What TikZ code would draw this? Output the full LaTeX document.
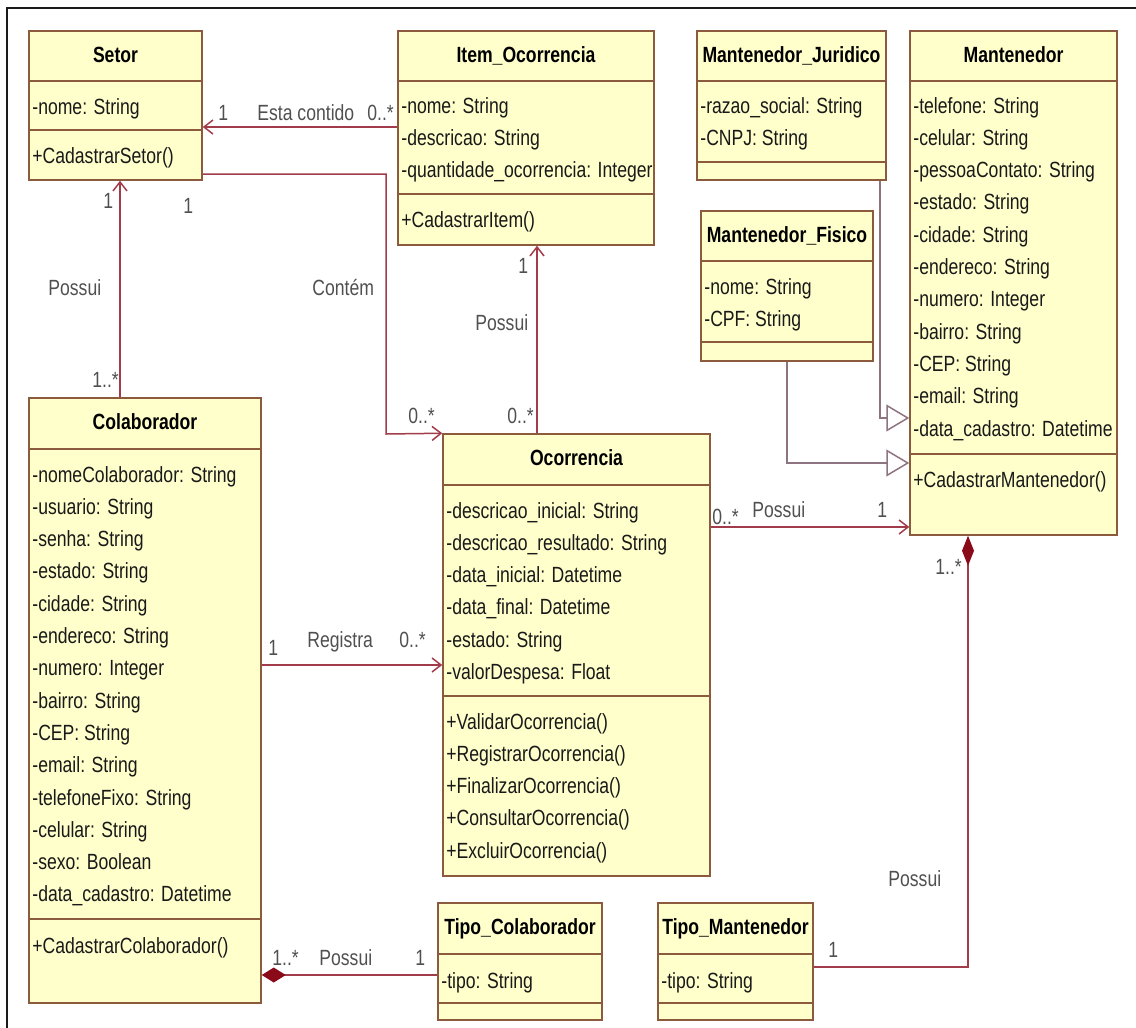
\documentclass[tikz,border=0pt]{standalone}
\usepackage{fontspec}
\setmainfont{Liberation Sans}[FakeStretch=0.8]
\usetikzlibrary{arrows.meta, fit}
\definecolor{classfill}{HTML}{FFFFCC}
\definecolor{classedge}{HTML}{8C5A3C}
\definecolor{linkred}{HTML}{A23C4A}
\definecolor{genline}{HTML}{8E7480}
\definecolor{compred}{HTML}{8B0A1A}
\definecolor{labelgrey}{HTML}{505050}
\definecolor{frameink}{HTML}{1A1A1A}

% one class: name, left, top, right, bottom, first divider, second divider, title
\newcommand{\umlclass}[8]{%
  \node[classbox, fit={(#2,#3) (#4,#5)}] (#1) {};
  \draw[classedge, line width=0.75pt] (#1.west |- 0,#6) -- (#1.east |- 0,#6);
  \draw[classedge, line width=0.75pt] (#1.west |- 0,#7) -- (#1.east |- 0,#7);
  \node[classtitle] (#1-title) at ({(#2+#4)/2},{#3+31}) {#8};
}
% the rows of one compartment: prefix, left, first baseline, rows
\newcommand{\umlrows}[4]{%
  \foreach \entry [count=\row from 0] in {#4}
    \node[member] (#1-\row) at ({#2+3},{#3+32.3*\row}) {\entry};
}

\begin{document}
\begin{tikzpicture}[x=0.5pt, y=-0.5pt, font=\fontsize{11pt}{13pt}\selectfont]
  \useasboundingbox (0,0) rectangle (1136,1028);
  \tikzset{
    classbox/.style={draw=classedge, fill=classfill, line width=0.75pt, inner sep=0pt},
    classtitle/.style={anchor=base, inner sep=0pt, font=\fontsize{11pt}{13pt}\selectfont\bfseries},
    member/.style={anchor=base west, inner sep=0pt, text=black!90},
    conlab/.style={anchor=base west, inner sep=0pt, text=labelgrey},
    link/.style={draw=linkred, line width=0.75pt},
    navto/.style={-{Straight Barb[length=4.5pt, width=7pt]}},
    gento/.style={draw=genline, line width=0.75pt,
                  -{Triangle[open, length=11.5pt, width=13.5pt, fill=white]}}}

  % the frame, open at right and bottom
  \draw[frameink, line width=1pt] (7,1028) -- (7,8) -- (1136,8);

  % ========== the classes ==========
  \umlclass{setor}{29}{31}{202}{180}{81}{130}{Setor}
  \umlrows{setor-a}{29}{114}{-nome: String}
  \umlrows{setor-m}{29}{163}{+CadastrarSetor()}

  \umlclass{item}{398}{31}{654}{245}{81}{194}{Item\_Ocorrencia}
  \umlrows{item-a}{398}{113}{-nome: String, -descricao: String,
    -quantidade\_ocorrencia: Integer}
  \umlrows{item-m}{398}{227}{+CadastrarItem()}

  \umlclass{mjur}{697}{31}{886}{180}{81}{162}{Mantenedor\_Juridico}
  \umlrows{mjur-a}{697}{113}{-razao\_social: String, -CNPJ: String}

  \umlclass{mfis}{701}{211}{873}{361}{261}{342}{Mantenedor\_Fisico}
  \umlrows{mfis-a}{701}{294}{-nome: String, -CPF: String}

  \umlclass{mant}{910}{31}{1117}{535}{81}{454}{Mantenedor}
  \umlrows{mant-a}{910}{113}{-telefone: String, -celular: String,
    -pessoaContato: String, -estado: String, -cidade: String,
    -endereco: String, -numero: Integer, -bairro: String, -CEP: String,
    -email: String, -data\_cadastro: Datetime}
  \umlrows{mant-m}{910}{487}{+CadastrarMantenedor()}

  \umlclass{colab}{29}{398}{261}{1003}{449}{919}{Colaborador}
  \umlrows{colab-a}{29}{482}{-nomeColaborador: String, -usuario: String,
    -senha: String, -estado: String, -cidade: String, -endereco: String,
    -numero: Integer, -bairro: String, -CEP: String, -email: String,
    -telefoneFixo: String, -celular: String, -sexo: Boolean,
    -data\_cadastro: Datetime}
  \umlrows{colab-m}{29}{953}{+CadastrarColaborador()}

  \umlclass{ocor}{443}{434}{710}{876}{485}{696}{Ocorrencia}
  \umlrows{ocor-a}{443}{518}{-descricao\_inicial: String,
    -descricao\_resultado: String, -data\_inicial: Datetime,
    -data\_final: Datetime, -estado: String, -valorDespesa: Float}
  \umlrows{ocor-m}{443}{729}{+ValidarOcorrencia(), +RegistrarOcorrencia(),
    +FinalizarOcorrencia(), +ConsultarOcorrencia(), +ExcluirOcorrencia()}

  \umlclass{tcolab}{438}{903}{602}{1020}{954}{1003}{Tipo\_Colaborador}
  \umlrows{tcolab-a}{438}{988}{-tipo: String}

  \umlclass{tmant}{658}{903}{813}{1020}{954}{1003}{Tipo\_Mantenedor}
  \umlrows{tmant-a}{658}{988}{-tipo: String}

  % ========== the associations ==========
  % Item_Ocorrencia -> Setor
  \draw[link, navto] (item.west |- 0,127) -- (setor.east |- 0,127);
  \node[conlab] (lab-ec1) at (218,120) {1};
  \node[conlab] (lab-ec) at (257,120) {Esta contido};
  \node[conlab] (lab-ec2) at (367,120) {0..*};

  % Colaborador -> Setor
  \draw[link, navto] (colab.north -| 120,0) -- (setor.south -| 120,0);
  \node[conlab] (lab-cs1) at (103,208) {1};
  \node[conlab] (lab-cs) at (48,295) {Possui};
  \node[conlab] (lab-cs2) at (92,387) {1..*};

  % Setor -> Ocorrencia, round the left of Item_Ocorrencia
  \coordinate (contem-bend) at (386,434);
  \draw[link, navto] (setor.east |- 0,174) -| (contem-bend) -- (ocor.north west);
  \node[conlab] (lab-ct1) at (183,213) {1};
  \node[conlab] (lab-ct) at (312,295) {Contém};
  \node[conlab] (lab-ct2) at (408,423) {0..*};

  % Ocorrencia -> Item_Ocorrencia
  \draw[link, navto] (ocor.north -| 537,0) -- (item.south -| 537,0);
  \node[conlab] (lab-oi1) at (518,273) {1};
  \node[conlab] (lab-oi) at (475,330) {Possui};
  \node[conlab] (lab-oi2) at (507,423) {0..*};

  % Colaborador -> Ocorrencia
  \draw[link, navto] (colab.east |- 0,665) -- (ocor.west |- 0,665);
  \node[conlab] (lab-rg1) at (268,655) {1};
  \node[conlab] (lab-rg) at (307,647) {Registra};
  \node[conlab] (lab-rg2) at (399,647) {0..*};

  % Ocorrencia -> Mantenedor
  \draw[link, navto] (ocor.east |- 0,527) -- (mant.west |- 0,527);
  \node[conlab] (lab-om2) at (712,524) {0..*};
  \node[conlab] (lab-om) at (752,517) {Possui};
  \node[conlab] (lab-om1) at (877,517) {1};

  % Colaborador <>-- Tipo_Colaborador (composition)
  \draw[link, {Diamond[length=12pt, width=7.5pt, fill=compred, color=compred]}-]
    (colab.east |- 0,975) -- (tcolab.west |- 0,975);
  \node[conlab] (lab-tc2) at (272,965) {1..*};
  \node[conlab] (lab-tc) at (319,965) {Possui};
  \node[conlab] (lab-tc1) at (415,965) {1};

  % Mantenedor <>-- Tipo_Mantenedor (composition)
  \draw[link, {Diamond[length=15pt, width=6pt, fill=compred, color=compred]}-]
    (mant.south -| 968,0) |- (tmant.east |- 0,967);
  \node[conlab] (lab-tm2) at (935,574) {1..*};
  \node[conlab] (lab-tm) at (888,886) {Possui};
  \node[conlab] (lab-tm1) at (828,957) {1};

  % ========== the generalizations ==========
  \draw[gento] (mjur.south -| 880,0) |- (mant.west |- 0,418);
  \draw[gento] (mfis.south) |- (mant.west |- 0,463);
\end{tikzpicture}
\end{document}
